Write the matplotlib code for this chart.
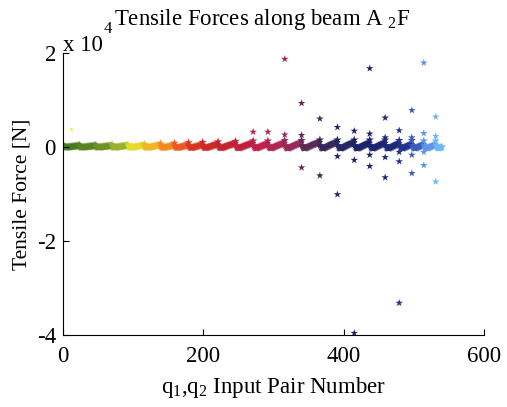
import numpy as np
import matplotlib.pyplot as plt

plt.rcParams['font.family'] = ['Liberation Serif', 'DejaVu Serif']
plt.rcParams['mathtext.fontset'] = 'custom'
plt.rcParams['mathtext.rm'] = 'Liberation Serif'
plt.rcParams['mathtext.it'] = 'Liberation Serif'
plt.rcParams['axes.unicode_minus'] = False

# input pair numbers where each q1 group starts (last pair = 540)
group_start = [1, 24, 47, 70, 93, 116, 139, 159, 179, 199, 221, 246, 271,
               292, 316, 340, 366, 391, 415, 437, 459, 479, 497, 514, 531]
last_pair = 540

# size of the saw-tooth inside each group (x 10^4 N)
group_scale = [0.04, 0.04, 0.04, 0.05, 0.05, 0.06, 0.07, 0.08, 0.09, 0.10,
               0.11, 0.12, 0.13, 0.13, 0.14, 0.14, 0.15, 0.15, 0.15, 0.15,
               0.15, 0.14, 0.14, 0.13, 0.13]

# shape of one group (relative), first value is the spike
ramp = [1.0, 0.20, -0.05, -0.15, -0.18, -0.18, -0.15, -0.10, -0.05, 0.00,
        0.05, 0.10, 0.15, 0.20, 0.25, 0.30, 0.34, 0.38, 0.42, 0.46,
        0.50, 0.54, 0.58, 0.62, 0.66, 0.70]

group_colors = ['#4a7a1e', '#568420', '#6a9224', '#9cb22c', '#e4dc2c',
                '#f2b422', '#f08a20', '#e85a22', '#d83524', '#cc2a28',
                '#c42430', '#c0203c', '#c02048', '#b02454', '#982858',
                '#5e2a55', '#36285a', '#262662', '#1c2468', '#1a2470',
                '#1c2878', '#22308e', '#3a5cc0', '#5a96e6', '#70b6f6']

# points away from the band (x 10^4 N)
extra_x = [271, 292, 316, 316,
           340, 340, 340,
           366, 366,
           391, 391, 391,
           415, 415, 415,
           437, 437, 437, 437,
           459, 459, 459, 459,
           479, 479, 479, 479,
           497, 497, 497, 497,
           514, 514, 514, 514,
           531, 531, 531]
extra_y = [0.32, 0.32, 0.26, 1.87,
           0.25, 0.93, -0.44,
           0.60, -0.61,
           0.42, -0.20, -1.01,
           0.34, -0.28, -3.96,
           1.67, 0.28, -0.17, -0.41,
           0.62, 0.20, -0.22, -0.65,
           0.35, -0.11, -0.31, -3.32,
           0.78, 0.20, -0.17, -0.56,
           1.79, 0.29, -0.11, -0.39,
           0.64, 0.23, -0.74]

stray_x = [11]
stray_y = [0.38]

# build the band
xs, ys, cs = [], [], []
ends = group_start[1:] + [last_pair + 1]
for g, (s, e) in enumerate(zip(group_start, ends)):
    for i, x in enumerate(range(s, e)):
        xs.append(x)
        ys.append(group_scale[g] * ramp[i])
        cs.append(group_colors[g])

extra_g = np.searchsorted(group_start, extra_x, side='right') - 1
extra_c = [group_colors[g] for g in extra_g]

fig = plt.figure(figsize=(5.07, 4.07), dpi=100)
ax = fig.add_axes([0.124, 0.177, 0.831, 0.693])

ax.scatter(xs, ys, c=cs, marker='*', s=40, linewidths=0)
ax.scatter(extra_x, extra_y, c=extra_c, marker='*', s=32, linewidths=0)
ax.scatter(stray_x, stray_y, c='#f0f020', marker='*', s=12, linewidths=0)

ax.set_xlim(0, 600)
ax.set_ylim(-4, 2)
ax.set_xticks([0, 200, 400, 600])
ax.set_yticks([-4, -2, 0, 2])
ax.spines['top'].set_visible(False)
ax.spines['right'].set_visible(False)
ax.tick_params(direction='in', length=4, width=0.8, labelsize=16.5)
ax.tick_params(axis='x', pad=8)
ax.tick_params(axis='y', pad=5)

ax.set_xlabel('q$_1$,q$_2$ Input Pair Number', fontsize=16.5, labelpad=6)
ax.set_ylabel('Tensile Force [N]', fontsize=15.5, labelpad=4)

fig.text(0.517, 0.939, 'Tensile Forces along beam A $_2$F', fontsize=16.5,
         ha='center', va='baseline')
fig.text(0.124, 0.874, 'x 10', fontsize=16.5, ha='left', va='baseline')
fig.text(0.205, 0.919, '4', fontsize=12, ha='left', va='baseline')

fig.savefig('out.png')
